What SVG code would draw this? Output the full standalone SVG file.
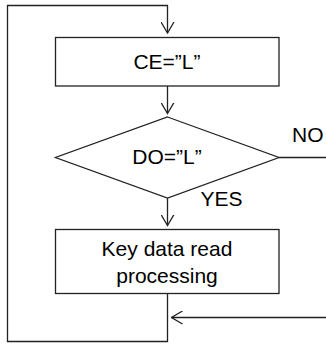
<svg xmlns="http://www.w3.org/2000/svg" width="326" height="344" viewBox="0 0 326 344">
<defs>
<style>
.s{fill:#fff;stroke:#222;stroke-width:1.3}
.c{fill:none;stroke:#222;stroke-width:1.3}
.t{font-family:"Liberation Sans",Arial,sans-serif;font-size:21px;fill:#000}
</style>
<marker id="ah" viewBox="0 0 12 14" refX="11" refY="7" markerWidth="12" markerHeight="14" markerUnits="userSpaceOnUse" orient="auto">
<path d="M0,0.5 L11,7 L0,13.5" fill="none" stroke="#222" stroke-width="1.3"/>
</marker>
</defs>
<g id="connectors">
<polyline class="c" points="167.5,294 167.5,341.5 7.5,341.5 7.5,5.5 167.5,5.5 167.5,33" marker-end="url(#ah)"/>
<line class="c" x1="167.5" y1="86" x2="167.5" y2="113.5" marker-end="url(#ah)"/>
<line class="c" x1="167.5" y1="198" x2="167.5" y2="225.5" marker-end="url(#ah)"/>
<line class="c" x1="279" y1="157.5" x2="326" y2="157.5"/>
<line class="c" x1="326" y1="317.5" x2="171.5" y2="317.5" marker-end="url(#ah)"/>
</g>
<g id="node-ce">
<rect class="s" x="55.5" y="37.5" width="223.5" height="48.5"/>
<text class="t" x="167" y="69" text-anchor="middle">CE=”L”</text>
</g>
<g id="node-do">
<polygon class="s" points="167.5,117 279,157.5 167.5,198 55.5,157.5"/>
<text class="t" x="167" y="164" text-anchor="middle">DO=”L”</text>
<text class="t" x="200.5" y="206">YES</text>
<text class="t" x="292" y="142">NO</text>
</g>
<g id="node-key">
<rect class="s" x="55.5" y="229.5" width="223.5" height="64"/>
<text class="t" x="167" y="256" text-anchor="middle">Key data read</text>
<text class="t" x="167" y="283" text-anchor="middle">processing</text>
</g>
</svg>
